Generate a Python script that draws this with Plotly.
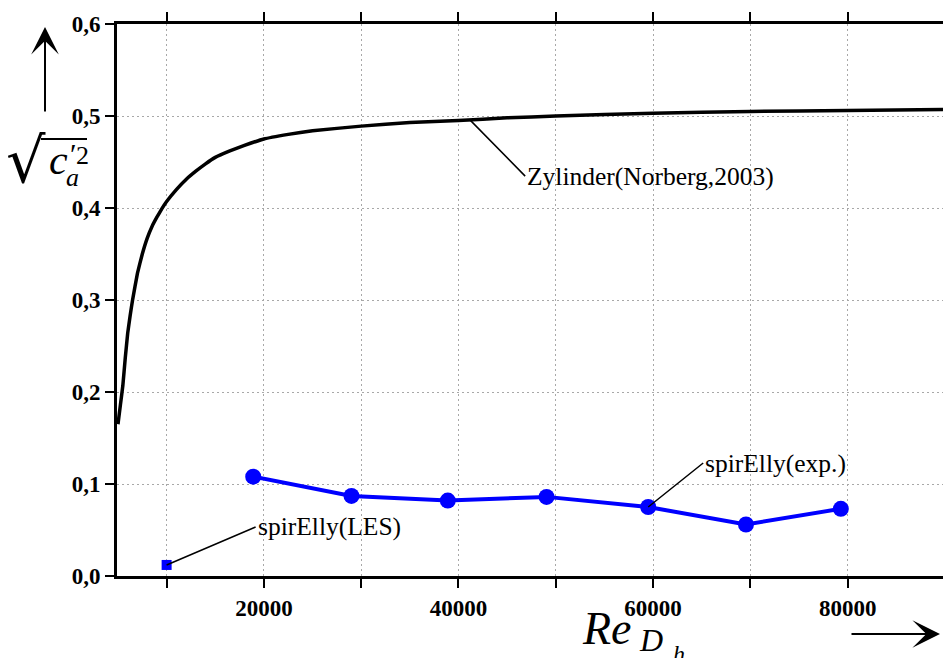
import plotly.graph_objects as go

# ---------------- data ----------------
cyl_x = [5000, 5250, 5500, 5750, 6000, 6250, 6500, 7000, 7500, 8000, 8500,
         9000, 9500, 10000, 11000, 12000, 13000, 14000, 15000, 16500, 18000,
         20000, 22500, 25000, 30000, 35000, 40000, 45000, 50000, 60000, 70000,
         80000, 89800]
cyl_y = [0.165, 0.186, 0.207, 0.237, 0.264, 0.283, 0.300, 0.329, 0.350, 0.367,
         0.380, 0.390, 0.399, 0.407, 0.420, 0.431, 0.440, 0.448, 0.455, 0.462,
         0.468, 0.475, 0.480, 0.484, 0.489, 0.493, 0.495, 0.498, 0.500, 0.503,
         0.505, 0.506, 0.507]

exp_x = [18900, 29000, 38900, 49050, 59500, 69550, 79300]
exp_y = [0.108, 0.087, 0.082, 0.086, 0.075, 0.056, 0.073]

les_x = [10000]
les_y = [0.012]

cyl_label_x, cyl_label_y = 41200, 0.4955

x_tick_vals = [10000, 20000, 30000, 40000, 50000, 60000, 70000, 80000]
x_tick_text = ["", "20000", "", "40000", "", "60000", "", "80000"]
y_tick_vals = [0.0, 0.1, 0.2, 0.3, 0.4, 0.5, 0.6]

# ---------------- layout geometry ----------------
W, H = 943, 658
L, R, T, B = 117, 0, 24, 82
PW, PH = W - L - R, H - T - B


def px(xp):
    return (xp - L) / PW


def py(yp):
    return (H - B - yp) / PH


SERIF = "Liberation Serif"
TICKFONT = dict(family=SERIF, size=23, color="black", weight="bold")

fig = go.Figure()

fig.add_trace(go.Scatter(
    x=cyl_x, y=cyl_y, mode="lines",
    line=dict(color="black", width=3.5, shape="spline", smoothing=0.25),
    showlegend=False, hoverinfo="skip"))

fig.add_trace(go.Scatter(
    x=exp_x, y=exp_y, mode="lines+markers",
    line=dict(color="#0000ff", width=4),
    marker=dict(color="#0000ff", size=16, symbol="circle"),
    showlegend=False))

fig.add_trace(go.Scatter(
    x=les_x, y=les_y, mode="markers",
    marker=dict(color="#0000ff", size=10, symbol="square"),
    showlegend=False))

annots = []
# series labels with leader lines
annots.append(dict(x=les_x[0], y=les_y[0], xref="x", yref="y",
                   text="spirElly(LES)", showarrow=True, arrowhead=0,
                   arrowwidth=1.5, arrowcolor="black",
                   ax=89, ay=-38, xanchor="left", yanchor="middle",
                   font=dict(family=SERIF, size=25.5, color="black")))
annots.append(dict(x=exp_x[4], y=exp_y[4], xref="x", yref="y",
                   text="spirElly(exp.)", showarrow=True, arrowhead=0,
                   arrowwidth=1.5, arrowcolor="black",
                   ax=55, ay=-44, xanchor="left", yanchor="middle",
                   font=dict(family=SERIF, size=25.5, color="black")))
annots.append(dict(x=cyl_label_x, y=cyl_label_y, xref="x", yref="y",
                   text="Zylinder(Norberg,2003)", showarrow=True, arrowhead=0,
                   arrowwidth=1.5, arrowcolor="black",
                   ax=55, ay=56, xanchor="left", yanchor="middle",
                   font=dict(family=SERIF, size=25.5, color="black")))

# axis arrows
annots.append(dict(x=px(45), y=py(27), xref="paper", yref="paper", text="",
                   showarrow=True, arrowhead=3, arrowsize=2.3, arrowwidth=2,
                   arrowcolor="black", ax=0, ay=86))
annots.append(dict(x=px(940), y=py(634), xref="paper", yref="paper", text="",
                   showarrow=True, arrowhead=3, arrowsize=2.3, arrowwidth=2,
                   arrowcolor="black", ax=-90, ay=0))


def label(xp, yp, text, size, family=SERIF):
    return dict(x=px(xp), y=py(yp), xref="paper", yref="paper", text=text,
                showarrow=False, xanchor="center", yanchor="middle",
                font=dict(family=family, size=size, color="black"))


# y axis title: sqrt(c'_a^2)
annots.append(label(26, 160, "√", 62, "DejaVu Serif"))
annots.append(label(58, 160, "<i>c</i>", 42))
annots.append(label(73, 153, "′", 30))
annots.append(label(82, 155, "2", 26))
annots.append(label(72, 177, "<i>a</i>", 26))

# x axis title: Re_{D_h}
annots.append(label(607, 628, "<i>Re</i>", 46))
annots.append(label(651, 640, "<i>D</i>", 32))
annots.append(label(679, 654, "<i>h</i>", 24))

shapes = [dict(type="line", xref="paper", yref="paper",
               x0=px(41), x1=px(87), y0=py(139), y1=py(139),
               line=dict(color="black", width=2))]

fig.update_layout(
    width=W, height=H,
    margin=dict(l=L, r=R, t=T, b=B, pad=0),
    paper_bgcolor="white", plot_bgcolor="white",
    separators=",.",
    annotations=annots, shapes=shapes,
    xaxis=dict(range=[4900, 89800], tickmode="array",
               tickvals=x_tick_vals, ticktext=x_tick_text,
               ticks="outside", ticklen=9, tickwidth=2, tickcolor="black",
               showline=True, linewidth=3, linecolor="black", mirror="ticks",
               showgrid=True, gridcolor="#a8a8a8", gridwidth=1,
               griddash="2px,3px",
               zeroline=False, tickfont=TICKFONT),
    yaxis=dict(range=[0, 0.6], tickmode="array", tickvals=y_tick_vals,
               tickformat=".1f",
               ticks="outside", ticklen=9, tickwidth=2, tickcolor="black",
               showline=True, linewidth=3, linecolor="black", mirror=False,
               showgrid=True, gridcolor="#a8a8a8", gridwidth=1,
               griddash="2px,3px",
               zeroline=False, tickfont=TICKFONT),
)

fig.write_html("out.html",
               config={"displayModeBar": False},
               post_script="document.body.style.margin='0';"
                           "document.body.style.overflow='hidden';")
